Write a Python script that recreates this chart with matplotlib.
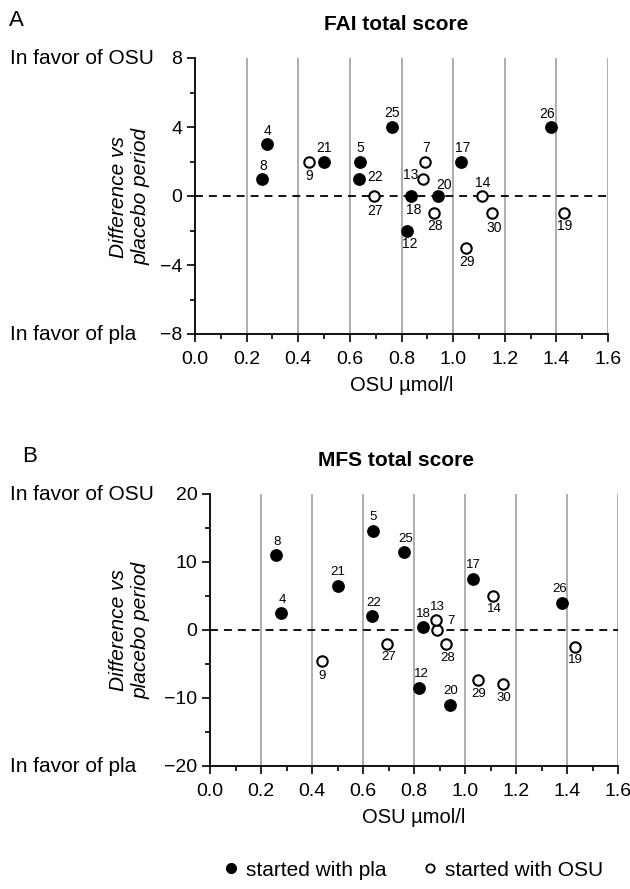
import matplotlib.pyplot as plt
from matplotlib.lines import Line2D
from matplotlib.ticker import MultipleLocator

plt.rcParams['font.family'] = ['Liberation Sans', 'DejaVu Sans']

# patient numbers, OSU concentration and which period came first
patients = [4, 5, 7, 8, 9, 12, 13, 14, 17, 18, 19, 20, 21, 22, 25, 26, 27, 28, 29, 30]
osu = [0.28, 0.64, 0.89, 0.26, 0.44, 0.82, 0.885, 1.11, 1.03, 0.837,
       1.43, 0.94, 0.50, 0.637, 0.762, 1.38, 0.695, 0.927, 1.05, 1.15]
started_pla = [True, True, False, True, False, True, False, False, True, True,
               False, True, True, True, True, True, False, False, False, False]

# difference vs placebo period
fai_diff = [3, 2, 2, 1, 2, -2, 1, 0, 2, 0, -1, 0, 2, 1, 4, 4, 0, -1, -3, -1]
mfs_diff = [2.5, 14.5, 0, 11, -4.5, -8.5, 1.5, 5, 7.5, 0.5,
            -2.5, -11, 6.5, 2, 11.5, 4, -2, -2, -7.3, -8]

# label offsets in pixels (dx, dy), layout only
offs_a = {4: (0, 13), 5: (0, 13), 7: (1, 13), 8: (1, 13), 9: (1, -15),
          12: (3, -14), 13: (-13, 4), 14: (1, 13), 17: (2, 13), 18: (3, -14),
          19: (1, -13), 20: (6, 11), 21: (0, 14), 22: (16, 2), 25: (0, 14),
          26: (-4, 13), 27: (1, -15), 28: (1, -13), 29: (1, -14), 30: (2, -15)}
offs_b = {4: (1, 13), 5: (0, 14), 7: (14, 9), 8: (1, 13), 9: (0, -15),
          12: (2, 14), 13: (2, 13), 14: (1, -13), 17: (1, 14), 18: (0, 13),
          19: (1, -13), 20: (1, 14), 21: (0, 14), 22: (1, 13), 25: (1, 13),
          26: (-2, 14), 27: (1, -13), 28: (1, -14), 29: (1, -14), 30: (1, -14)}

W, H = 630, 889
fig = plt.figure(figsize=(W / 100, H / 100), dpi=100)


def box(x0, x1, y0, y1):
    # pixel box (top-left origin) -> figure fraction rect
    return [x0 / W, 1 - y1 / H, (x1 - x0) / W, (y1 - y0) / H]


def panel(ax, diff, lim, major, minor, offs, lab_fs, ytop, ybot, letter, title, letter_x):
    for gx in [0.2, 0.4, 0.6, 0.8, 1.0, 1.2, 1.4, 1.6]:
        ax.axvline(gx, color='#a0a0a0', lw=1.2, zorder=0)
    ax.axhline(0, color='k', lw=1.3, ls=(0, (4.4, 3.3)), zorder=1)

    xs_f = [x for x, s in zip(osu, started_pla) if s]
    ys_f = [y for y, s in zip(diff, started_pla) if s]
    xs_o = [x for x, s in zip(osu, started_pla) if not s]
    ys_o = [y for y, s in zip(diff, started_pla) if not s]
    ax.plot(xs_f, ys_f, 'o', ms=8, mfc='k', mec='k', mew=1.2, zorder=3, clip_on=False)
    ax.plot(xs_o, ys_o, 'o', ms=7.5, mfc='w', mec='k', mew=1.5, zorder=3, clip_on=False)

    for pid, x, y in zip(patients, osu, diff):
        dx, dy = offs[pid]
        ax.annotate(str(pid), (x, y), xytext=(dx * 0.72, dy * 0.72),
                    textcoords='offset points', ha='center', va='center',
                    fontsize=lab_fs)

    ax.set_xlim(0, 1.6)
    ax.set_ylim(-lim, lim)
    ax.xaxis.set_major_locator(MultipleLocator(0.2))
    ax.xaxis.set_minor_locator(MultipleLocator(0.1))
    ax.yaxis.set_major_locator(MultipleLocator(major))
    ax.yaxis.set_minor_locator(MultipleLocator(minor))
    ax.xaxis.set_major_formatter(plt.FuncFormatter(lambda v, p: f'{v:.1f}'))
    for s in ['top', 'right']:
        ax.spines[s].set_visible(False)
    for s in ['left', 'bottom']:
        ax.spines[s].set_linewidth(1.3)
    ax.tick_params(which='major', direction='out', length=6, width=1.2,
                   labelsize=14, pad=3)
    ax.tick_params(axis='x', which='major', pad=6)
    ax.tick_params(which='minor', direction='out', length=3.5, width=1.2)
    ax.set_xlabel('OSU \u00b5mol/l', fontsize=14.5, labelpad=6)

    fig.text(10 / W, 1 - ytop / H, 'In favor of OSU', fontsize=15, va='center')
    fig.text(10 / W, 1 - ybot / H, 'In favor of pla', fontsize=15, va='center')
    fig.text(130 / W, 1 - (ytop + ybot) / 2 / H, 'Difference vs\nplacebo period',
             fontsize=15, style='italic', rotation=90, ha='center', va='center',
             multialignment='center')
    fig.text(letter_x / W, 1 - (ytop - 37) / H, letter, fontsize=16, va='center')
    fig.text(396 / W, 1 - (ytop - 34) / H, title, fontsize=15, weight='bold',
             ha='center', va='center')


ax_a = fig.add_axes(box(195, 608, 58, 334))
panel(ax_a, fai_diff, 8, 4, 2, offs_a, 10, 58, 335, 'A', 'FAI total score', 9)

ax_b = fig.add_axes(box(210, 618, 494, 766))
panel(ax_b, mfs_diff, 20, 10, 5, offs_b, 9.5, 494, 766, 'B', 'MFS total score', 22)

handles = [Line2D([], [], ls='', marker='o', ms=7, mfc='k', mec='k'),
           Line2D([], [], ls='', marker='o', ms=6, mfc='w', mec='k', mew=1.3)]
fig.legend(handles, ['started with pla', 'started with OSU'], loc='center',
           bbox_to_anchor=(413 / W, 1 - 870 / H), ncol=2, frameon=False,
           fontsize=15, handlelength=0.8, handletextpad=0.3, columnspacing=1.7)

fig.savefig('out.png', dpi=100)
